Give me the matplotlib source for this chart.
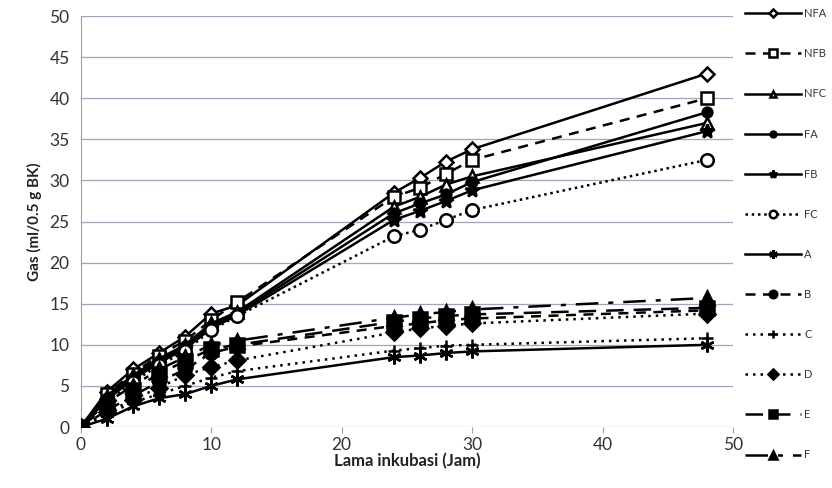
import matplotlib
matplotlib.use("Agg")
import matplotlib.pyplot as plt

plt.rcParams['font.family'] = ['Lato', 'DejaVu Sans']

hours = [0, 2, 4, 6, 8, 10, 12, 24, 26, 28, 30, 48]

NFA = [0, 4.3, 7.0, 9.0, 11.0, 13.8, 14.8, 28.5, 30.3, 32.3, 33.8, 43.0]
NFB = [0, 4.0, 6.5, 8.7, 10.5, 13.0, 15.2, 28.0, 29.1, 30.8, 32.5, 40.0]
NFC = [0, 3.8, 6.3, 8.3, 10.0, 12.6, 14.0, 26.8, 28.0, 29.5, 30.5, 37.0]
FA = [0, 3.5, 6.0, 8.0, 9.8, 12.3, 13.8, 26.0, 27.2, 28.3, 29.8, 38.3]
FB = [0, 3.3, 5.8, 7.8, 9.5, 12.0, 13.6, 25.2, 26.3, 27.5, 28.8, 36.0]
FC = [0, 3.0, 5.5, 7.5, 9.2, 11.8, 13.5, 23.2, 24.0, 25.2, 26.4, 32.5]
A = [0, 1.0, 2.5, 3.5, 4.0, 5.0, 5.8, 8.5, 8.7, 9.0, 9.2, 10.0]
B = [0, 2.0, 3.8, 5.5, 7.0, 9.0, 9.8, 12.3, 12.6, 13.0, 13.2, 14.2]
C = [0, 1.5, 3.0, 4.0, 5.0, 6.0, 6.8, 9.3, 9.6, 9.9, 10.0, 10.8]
D = [0, 1.8, 3.3, 4.8, 6.3, 7.3, 8.1, 11.5, 12.0, 12.3, 12.6, 13.8]
E = [0, 2.5, 4.5, 6.5, 8.0, 9.5, 10.0, 12.8, 13.2, 13.5, 13.7, 14.5]
F = [0, 3.0, 5.0, 7.0, 8.5, 10.0, 10.5, 13.3, 13.7, 14.0, 14.3, 15.7]

series_names = ["NFA", "NFB", "NFC", "FA", "FB", "FC", "A", "B", "C", "D", "E", "F"]
series_values = [NFA, NFB, NFC, FA, FB, FC, A, B, C, D, E, F]

styles = {
    "NFA": dict(ls='-', marker='D', mfc='white', ms=7),
    "NFB": dict(ls=(0, (4, 3)), marker='s', mfc='white', ms=9),
    "NFC": dict(ls='-', marker='^', mfc='white', ms=8),
    "FA": dict(ls='-', marker='o', mfc='black', ms=7),
    "FB": dict(ls='-', marker='*', mfc='black', ms=10),
    "FC": dict(ls=(0, (1, 1.5)), marker='o', mfc='white', ms=9),
    "A": dict(ls='-', marker=(6, 2, 0), mfc='black', ms=10),
    "B": dict(ls=(0, (4, 3)), marker='o', mfc='black', ms=9),
    "C": dict(ls=(0, (1, 2)), marker='+', mfc='black', ms=9),
    "D": dict(ls=(0, (1, 2)), marker='D', mfc='black', ms=8),
    "E": dict(ls=(0, (7, 4)), marker='s', mfc='black', ms=10),
    "F": dict(ls=(0, (9, 4, 2, 4)), marker='^', mfc='black', ms=10),
}

fig = plt.figure(figsize=(8.32, 4.88), dpi=100)
ax = fig.add_axes([0.097, 0.125, 0.784, 0.842])

for name, vals in zip(series_names, series_values):
    st = styles[name]
    ax.plot(hours, vals, color='black', lw=1.8, linestyle=st['ls'],
            marker=st['marker'], markersize=st['ms'], markerfacecolor=st['mfc'],
            markeredgecolor='black', markeredgewidth=1.8, label=name, zorder=3)

ax.set_xlim(0, 50)
ax.set_ylim(0, 50)
ax.set_xticks(range(0, 51, 10))
ax.set_yticks(range(0, 51, 5))
ax.yaxis.grid(True, color='#a4a4b8', lw=0.9)
ax.set_axisbelow(True)
for s in ['top', 'right', 'bottom']:
    ax.spines[s].set_visible(False)
ax.spines['left'].set_color('#a0a0a0')
ax.tick_params(axis='y', length=0, labelsize=12.5, colors='#333333', pad=8)
ax.tick_params(axis='x', length=4, color='#a0a0a0', labelsize=12.5, colors='#333333', pad=3)

ax.set_xlabel("Lama inkubasi (Jam)", fontsize=12, fontweight='bold', color='#222222', labelpad=0)
ax.set_ylabel("Gas (ml/0.5 g BK)", fontsize=11, fontweight='bold', color='#222222', labelpad=5)

leg = ax.legend(loc='upper left', bbox_to_anchor=(1.012, 1.03), frameon=False,
                fontsize=8, handlelength=5.0, handletextpad=0.3, labelspacing=2.62,
                markerscale=0.6, borderaxespad=0)
for t in leg.get_texts():
    t.set_color('#333333')

fig.savefig("out.png", dpi=100)
